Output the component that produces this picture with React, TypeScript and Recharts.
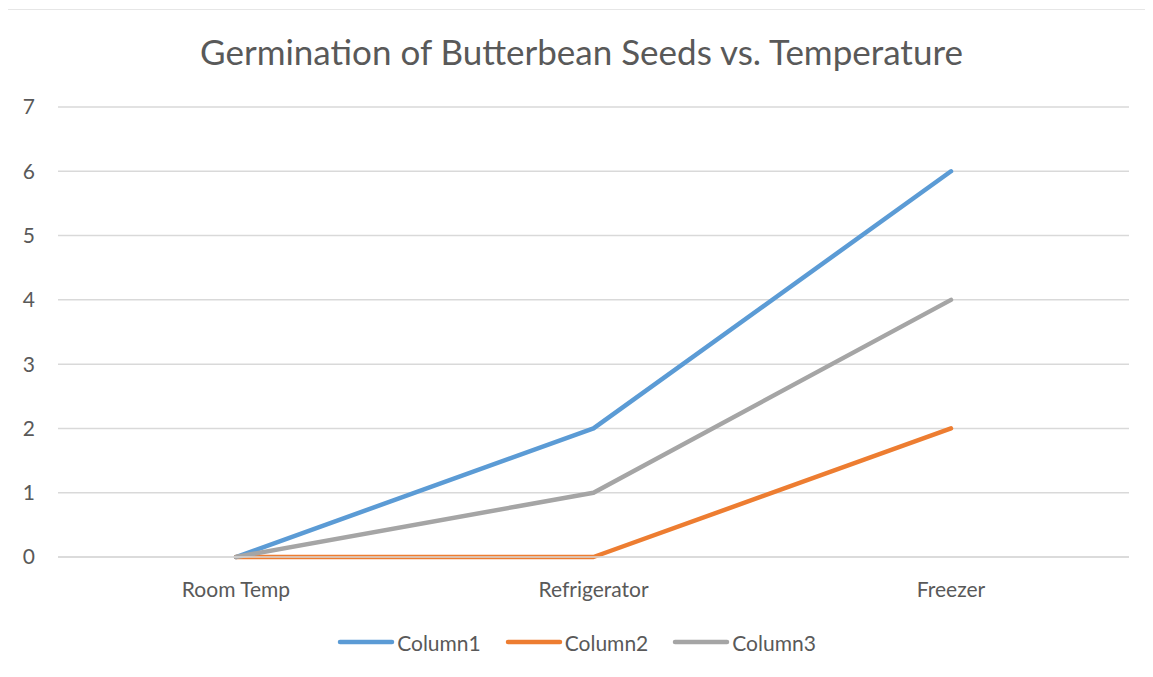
import React from "react";
import {
  LineChart,
  Line,
  XAxis,
  YAxis,
  CartesianGrid,
  Legend,
} from "recharts";

const categories = ["Room Temp", "Refrigerator", "Freezer"];
const column1 = [0, 2, 6];
const column2 = [0, 0, 2];
const column3 = [0, 1, 4];
const yTicks = [0, 1, 2, 3, 4, 5, 6, 7];

const series = [
  { key: "Column1", color: "#5B9BD5" },
  { key: "Column2", color: "#ED7D31" },
  { key: "Column3", color: "#A5A5A5" },
];

const data = categories.map((name, i) => ({
  name,
  Column1: column1[i],
  Column2: column2[i],
  Column3: column3[i],
}));

const FONT = "Lato, 'Open Sans', sans-serif";
const TEXT = "#595959";

function LegendBox() {
  return (
    <div
      style={{
        display: "flex",
        justifyContent: "center",
        alignItems: "center",
        height: 30,
        gap: 24,
        fontFamily: FONT,
        fontSize: 21,
        color: TEXT,
      }}
    >
      {series.map((s) => (
        <div key={s.key} style={{ display: "flex", alignItems: "center" }}>
          <svg width={58} height={10}>
            <line
              x1={3}
              y1={5}
              x2={55}
              y2={5}
              stroke={s.color}
              strokeWidth={4.5}
              strokeLinecap="round"
            />
          </svg>
          <span style={{ marginLeft: 2 }}>{s.key}</span>
        </div>
      ))}
    </div>
  );
}

export default function App() {
  return (
    <div
      style={{
        margin: -8,
        width: 1153,
        height: 677,
        position: "relative",
        background: "#fff",
        overflow: "hidden",
      }}
    >
      <div
        style={{
          position: "absolute",
          left: 5,
          top: 9,
          right: -2,
          bottom: -2,
          borderLeft: "2px solid #d9d9d9",
          borderTop: "1px solid #e6e6e6",
        }}
      />
      <div
        style={{
          position: "absolute",
          top: 30,
          left: 0,
          width: 1163,
          textAlign: "center",
          fontFamily: FONT,
          fontSize: 35,
          color: TEXT,
        }}
      >
        Germination of Butterbean Seeds vs. Temperature
      </div>
      <div style={{ position: "absolute", left: 0, top: 0 }}>
        <LineChart
          width={1153}
          height={677}
          data={data}
          margin={{ top: 107, right: 24, left: 0, bottom: 50 }}
        >
          <CartesianGrid
            vertical={false}
            stroke="#d9d9d9"
            strokeWidth={1.5}
          />
          <XAxis
            dataKey="name"
            axisLine={{ stroke: "#d9d9d9", strokeWidth: 1.5 }}
            tickLine={false}
            height={40}
            tickMargin={19}
            padding={{ left: 178, right: 178 }}
            tick={{ fill: TEXT, fontSize: 21, fontFamily: FONT }}
          />
          <YAxis
            width={58}
            domain={[0, 7]}
            ticks={yTicks}
            axisLine={false}
            tickLine={false}
            tickMargin={17}
            tick={{ fill: TEXT, fontSize: 21, fontFamily: FONT }}
          />
          <Legend
            verticalAlign="bottom"
            content={() => <LegendBox />}
            wrapperStyle={{ bottom: 20, left: 0, width: 1153 }}
          />
          {series.map((s) => (
            <Line
              key={s.key}
              dataKey={s.key}
              stroke={s.color}
              strokeWidth={4.5}
              dot={false}
              strokeLinecap="round"
              strokeLinejoin="round"
              isAnimationActive={false}
            />
          ))}
        </LineChart>
      </div>
    </div>
  );
}
